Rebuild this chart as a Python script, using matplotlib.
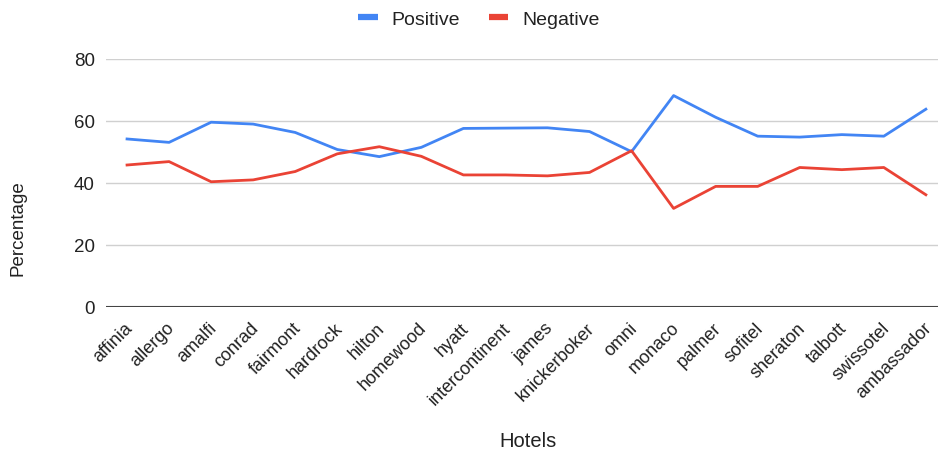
import matplotlib
matplotlib.use('Agg')
import matplotlib.pyplot as plt
import matplotlib.transforms as mtransforms
from matplotlib.lines import Line2D

plt.rcParams['font.family'] = ['Liberation Sans', 'DejaVu Sans']

hotels = ['affinia', 'allergo', 'amalfi', 'conrad', 'fairmont', 'hardrock', 'hilton',
          'homewood', 'hyatt', 'intercontinent', 'james', 'knickerboker', 'omni',
          'monaco', 'palmer', 'sofitel', 'sheraton', 'talbott', 'swissotel', 'ambassador']
positive = [54.2, 53.1, 59.6, 59.0, 56.3, 50.8, 48.5, 51.5, 57.6, 57.7,
            57.8, 56.6, 50.1, 68.2, 61.2, 55.1, 54.8, 55.6, 55.1, 63.8]
negative = [45.8, 46.9, 40.4, 41.0, 43.7, 49.4, 51.7, 48.6, 42.6, 42.6,
            42.3, 43.4, 50.4, 31.8, 38.9, 38.9, 45.0, 44.3, 45.0, 36.2]
yticks = [0, 20, 40, 60, 80]

blue = '#4285F4'
red = '#EA4335'
txt = '#222222'

fig = plt.figure(figsize=(9.39, 4.52), dpi=100)
ax = fig.add_axes([0.1129, 0.3186, 0.8861, 0.5487])

x = range(len(hotels))
ax.plot(x, positive, color=blue, lw=2.0, zorder=3)
ax.plot(x, negative, color=red, lw=2.0, zorder=3)

ax.set_xlim(-0.5, 19.29)
ax.set_ylim(0, 80)
ax.set_yticks(yticks)
ax.set_yticklabels([str(v) for v in yticks], fontsize=13.5, color=txt)
ax.grid(axis='y', color='#d0d0d0', lw=1.0)
ax.axhline(0, color='#444444', lw=1.5, zorder=2)
for s in ax.spines.values():
    s.set_visible(False)
ax.tick_params(axis='both', length=0)
ax.tick_params(axis='y', pad=8)

# rotated hotel names, kept inside the right edge
ax.set_xticks(list(x))
ax.set_xticklabels([])
offset = mtransforms.ScaledTranslation(-0.03, -0.12, fig.dpi_scale_trans)
for i, name in enumerate(hotels):
    ax.text(i, 0, name, transform=ax.get_xaxis_transform() + offset,
            rotation=45, ha='right', va='top', rotation_mode='anchor',
            fontsize=13, color=txt, clip_on=False)

fig.text(18 / 939, 0.4956, 'Percentage', fontsize=13.5, color=txt, rotation=90,
         ha='center', va='center')
fig.text(0.562, 0.0243, 'Hotels', fontsize=14.5, color=txt, ha='center', va='center')

handles = [Line2D([0], [0], color=blue, lw=4.5, solid_capstyle='butt'),
           Line2D([0], [0], color=red, lw=4.5, solid_capstyle='butt')]
fig.legend(handles, ['Positive', 'Negative'], loc='center', bbox_to_anchor=(0.51, 0.956),
           ncol=2, frameon=False, fontsize=14, handlelength=1.0, columnspacing=1.45,
           handletextpad=0.72, labelcolor=txt)

fig.savefig('out.png', dpi=100)
